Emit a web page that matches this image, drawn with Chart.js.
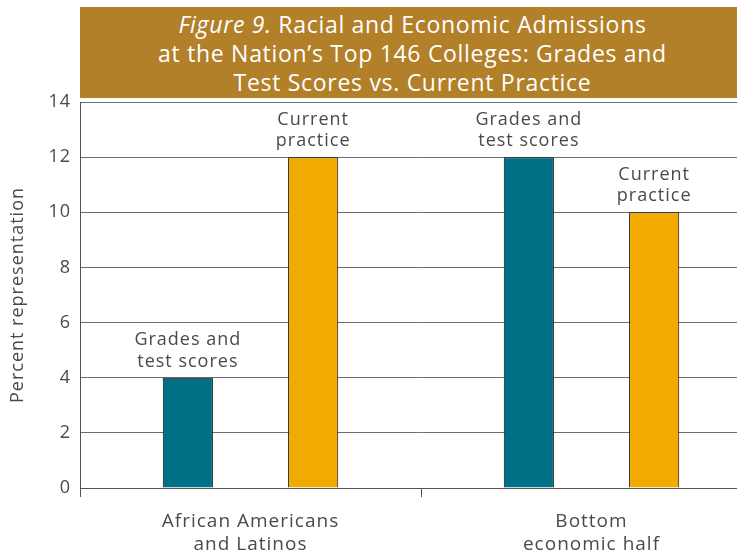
<!DOCTYPE html>
<html>
<head>
<meta charset="utf-8">
<script src="https://cdn.jsdelivr.net/npm/chart.js"></script>
<style>
  html, body { margin: 0; padding: 0; background: #fff; }
  #page { position: relative; width: 737px; height: 557px; overflow: hidden; }
  #title {
    position: absolute; left: 80px; top: 7px; width: 665px; height: 91px;
    background: #b3802a; color: #fff; text-align: center;
    font-family: 'Open Sans', sans-serif; font-size: 23px; line-height: 29px;
    letter-spacing: 0.7px; padding-top: 3px; box-sizing: border-box;
  }
  #wrap { position: absolute; left: 0; top: 0; width: 762px; height: 557px; }
</style>
</head>
<body>
<div id="page">
  <div id="wrap"><canvas id="chart"></canvas></div>
  <div id="title"><i>Figure 9.</i> Racial and Economic Admissions<br>at the Nation’s Top 146 Colleges: Grades and<br>Test Scores vs. Current Practice</div>
</div>
<script>
// chart data
const categories = [['African Americans', 'and Latinos'], ['Bottom', 'economic half']];
const gradesScores = [4, 12];
const currentPractice = [12, 10];
const seriesLabels = [['Grades and', 'test scores'], ['Current', 'practice']];
const yMax = 14;
const yStep = 2;

const FONT = "'Open Sans', sans-serif";
const TEXT = '#4a4a4a';

// the original typeface is set a bit loose, so space every canvas letter out
const spacing = {
  id: 'spacing',
  beforeDraw(chart) { chart.ctx.letterSpacing = '1px'; }
};

// draws the two-line label above each bar
const barLabels = {
  id: 'barLabels',
  afterDatasetsDraw(chart) {
    const ctx = chart.ctx;
    ctx.save();
    ctx.font = '18px ' + FONT;
    ctx.fillStyle = TEXT;
    ctx.textAlign = 'center';
    ctx.textBaseline = 'middle';
    chart.data.datasets.forEach((ds, di) => {
      const lines = seriesLabels[di];
      chart.getDatasetMeta(di).data.forEach(bar => {
        lines.forEach((line, i) => {
          const y = bar.y - 16 - (lines.length - 1 - i) * 21.5;
          ctx.fillText(line, bar.x, y);
        });
      });
    });
    ctx.restore();
  }
};

new Chart(document.getElementById('chart'), {
  type: 'bar',
  data: {
    labels: categories,
    datasets: [
      {
        label: 'Grades and test scores',
        data: gradesScores,
        backgroundColor: '#007086',
        borderColor: '#111',
        borderWidth: 1
      },
      {
        label: 'Current practice',
        data: currentPractice,
        backgroundColor: '#f0aa00',
        borderColor: '#111',
        borderWidth: 1
      }
    ]
  },
  options: {
    responsive: true,
    maintainAspectRatio: false,
    animation: false,
    categoryPercentage: 0.735,
    barPercentage: 0.4,
    layout: { padding: { top: 102, right: 0, bottom: 0, left: 0 } },
    plugins: {
      legend: { display: false },
      tooltip: { enabled: false }
    },
    scales: {
      x: {
        grid: {
          drawOnChartArea: false,
          drawTicks: true,
          tickLength: 9,
          color: '#555'
        },
        border: { color: '#555' },
        ticks: {
          font: { family: FONT, size: 19 },
          color: TEXT,
          padding: 13,
          maxRotation: 0
        },
        afterFit(scale) { scale.height = 69; }
      },
      y: {
        min: 0,
        max: yMax,
        grid: { color: '#6e6e6e', drawTicks: false },
        border: { color: '#555' },
        ticks: {
          stepSize: yStep,
          font: { family: FONT, size: 18 },
          color: TEXT,
          padding: 9
        },
        title: {
          display: true,
          text: 'Percent representation',
          font: { family: FONT, size: 18 },
          color: TEXT,
          padding: { top: 7, bottom: 0 }
        },
        afterFit(scale) { scale.width = 80; }
      }
    }
  },
  plugins: [spacing, barLabels]
});
</script>
</body>
</html>
